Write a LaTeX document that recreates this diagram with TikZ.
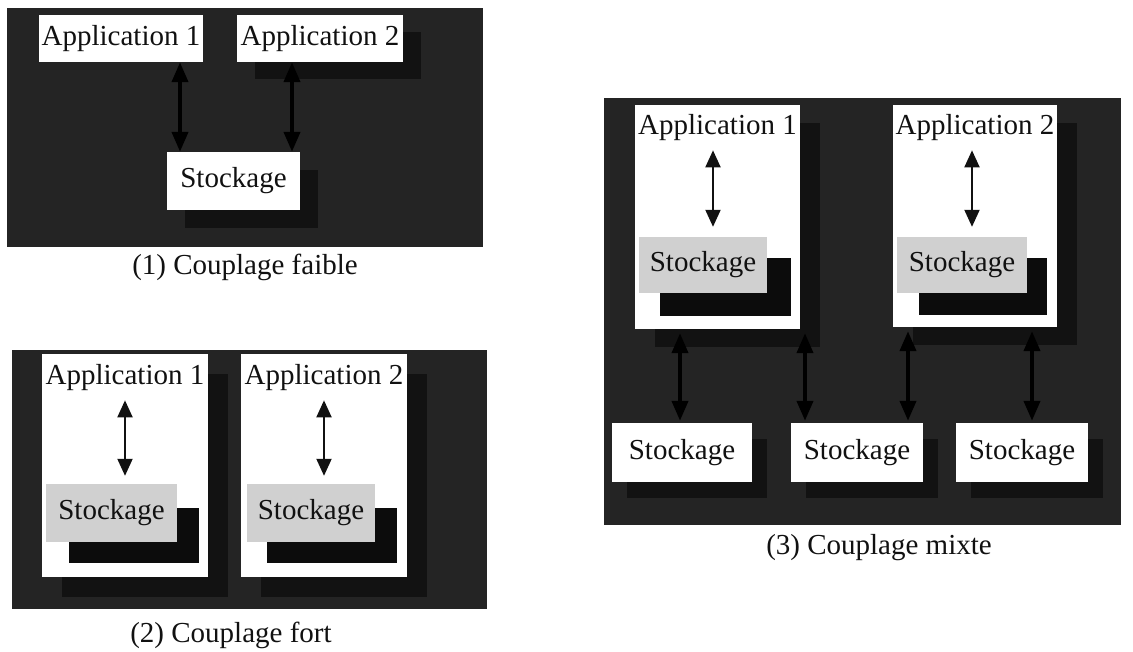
\documentclass[tikz,border=0pt]{standalone}
\usepackage{fontspec}
\setmainfont{Liberation Serif}
\usetikzlibrary{arrows.meta}
\definecolor{panelbg}{HTML}{242424}
\definecolor{shadowc}{HTML}{121212}
\definecolor{innershadow}{HTML}{0C0C0C}
\definecolor{graybox}{HTML}{D0D0D0}
\definecolor{ink}{HTML}{111111}
\tikzset{
  panel/.style={rectangle, fill=panelbg, draw=none, inner sep=0pt},
  whitebox/.style={rectangle, fill=white, draw=none, inner sep=0pt},
  shadowbox/.style={rectangle, fill=shadowc, draw=none, inner sep=0pt},
  innerbox/.style={rectangle, fill=innershadow, draw=none, inner sep=0pt},
  stockbox/.style={rectangle, fill=graybox, draw=none, inner sep=0pt},
  lbl/.style={font=\fontsize{29}{32}\selectfont, text=ink, inner sep=0pt},
  captext/.style={font=\fontsize{29}{32}\selectfont, text=ink, inner sep=0pt},
  arrin/.style={{Triangle[width=15pt,length=17pt]}-{Triangle[width=15pt,length=17pt]}, line width=2pt, draw=ink},
  arrdark/.style={{Triangle[width=16pt,length=20pt]}-{Triangle[width=16pt,length=20pt]}, line width=4pt, draw=black},
}
\begin{document}
\begin{tikzpicture}[x=1pt,y=-1pt]
\useasboundingbox[fill=white] (0,0) rectangle (1133,652);

% ---------------- Panel 1 : couplage faible ----------------
\node[panel, minimum width=476pt, minimum height=239pt] (bg1) at (245,127.5) {};
\node[shadowbox, minimum width=166pt, minimum height=47pt] (sh12) at (338,56) {};
\node[shadowbox, minimum width=133pt, minimum height=58pt] (sh1) at (251.5,199) {};
\node[whitebox, minimum width=164pt, minimum height=47pt] (a11) at (121,38.5) {};
\node[lbl] (t11) at (121,38.5) {Application 1};
\node[whitebox, minimum width=166pt, minimum height=47pt] (a12) at (320,38.5) {};
\node[lbl] (t12) at (320,38.5) {Application 2};
\node[whitebox, minimum width=133pt, minimum height=58pt] (s1) at (233.5,181) {};
\node[lbl] (ts1) at (233.5,181) {Stockage};
\coordinate (x11) at (180,0);
\coordinate (x12) at (292,0);
\draw[arrdark] (a11.south -| x11) -- (s1.north -| x11);
\draw[arrdark] (a12.south -| x12) -- (s1.north -| x12);
\node[captext] (c1) at (245,267) {(1) Couplage faible};

% ---------------- Panel 2 : couplage fort ----------------
\node[panel, minimum width=475pt, minimum height=259pt] (bg2) at (249.5,479.5) {};
\node[shadowbox, minimum width=166pt, minimum height=223pt] (sh21) at (145,485.5) {};
\node[shadowbox, minimum width=166pt, minimum height=223pt] (sh22) at (344,485.5) {};
\node[whitebox, minimum width=166pt, minimum height=223pt] (a21) at (125,465.5) {};
\node[whitebox, minimum width=166pt, minimum height=223pt] (a22) at (324,465.5) {};
\node[lbl] (t21) at (125,378) {Application 1};
\node[lbl] (t22) at (324,378) {Application 2};
\node[innerbox, minimum width=130pt, minimum height=55pt] (gs21) at (134,535.5) {};
\node[innerbox, minimum width=130pt, minimum height=55pt] (gs22) at (332,535.5) {};
\node[stockbox, minimum width=131pt, minimum height=58pt] (g21) at (111.5,513) {};
\node[lbl] at (g21) {Stockage};
\node[stockbox, minimum width=128pt, minimum height=58pt] (g22) at (311,513) {};
\node[lbl] at (g22) {Stockage};
\draw[arrin, shorten <=9pt, shorten >=8pt] (t21.south) -- (t21.south |- g21.north);
\draw[arrin, shorten <=9pt, shorten >=8pt] (t22.south) -- (t22.south |- g22.north);
\node[captext] (c2) at (231,635) {(2) Couplage fort};

% ---------------- Panel 3 : couplage mixte ----------------
\node[panel, minimum width=517pt, minimum height=427pt] (bg3) at (862.5,311.5) {};
\node[shadowbox, minimum width=165pt, minimum height=224pt] (sh31) at (737.5,235) {};
\node[shadowbox, minimum width=164pt, minimum height=222pt] (sh32) at (995,234) {};
\node[shadowbox, minimum width=140pt, minimum height=59pt] (shb1) at (697,468) {};
\node[shadowbox, minimum width=132pt, minimum height=59pt] (shb2) at (872,468) {};
\node[shadowbox, minimum width=132pt, minimum height=59pt] (shb3) at (1037,468) {};
\node[whitebox, minimum width=165pt, minimum height=224pt] (a31) at (717.5,217) {};
\node[whitebox, minimum width=164pt, minimum height=222pt] (a32) at (975,216) {};
\node[lbl] (t31) at (717.5,128) {Application 1};
\node[lbl] (t32) at (975,128) {Application 2};
\node[innerbox, minimum width=131pt, minimum height=58pt] (gs31) at (725.5,287) {};
\node[innerbox, minimum width=128pt, minimum height=57pt] (gs32) at (983,286.5) {};
\node[stockbox, minimum width=128pt, minimum height=56pt] (g31) at (703,265) {};
\node[lbl] at (g31) {Stockage};
\node[stockbox, minimum width=130pt, minimum height=56pt] (g32) at (962,265) {};
\node[lbl] at (g32) {Stockage};
\coordinate (x29) at (713,0);
\coordinate (x30) at (972,0);
\draw[arrin, shorten <=9pt, shorten >=10pt] (t31.south -| x29) -- (g31.north -| x29);
\draw[arrin, shorten <=9pt, shorten >=10pt] (t32.south -| x30) -- (g32.north -| x30);
\node[whitebox, minimum width=140pt, minimum height=59pt] (s31) at (682,452.5) {};
\node[lbl] at (s31) {Stockage};
\node[whitebox, minimum width=132pt, minimum height=59pt] (s32) at (857,452.5) {};
\node[lbl] at (s32) {Stockage};
\node[whitebox, minimum width=132pt, minimum height=59pt] (s33) at (1022,452.5) {};
\node[lbl] at (s33) {Stockage};
\coordinate (x31) at (680,0);
\coordinate (x32) at (805,0);
\coordinate (x33) at (908,0);
\coordinate (x34) at (1032,0);
\draw[arrdark, shorten <=4pt, shorten >=2pt] (a31.south -| x31) -- (s31.north -| x31);
\draw[arrdark, shorten <=4pt, shorten >=2pt] (a31.south -| x32) -- (s32.north -| x32);
\draw[arrdark, shorten <=4pt, shorten >=2pt] (a32.south -| x33) -- (s32.north -| x33);
\draw[arrdark, shorten <=4pt, shorten >=2pt] (a32.south -| x34) -- (s33.north -| x34);
\node[captext] (c3) at (879,548) {(3) Couplage mixte};
\end{tikzpicture}
\end{document}
